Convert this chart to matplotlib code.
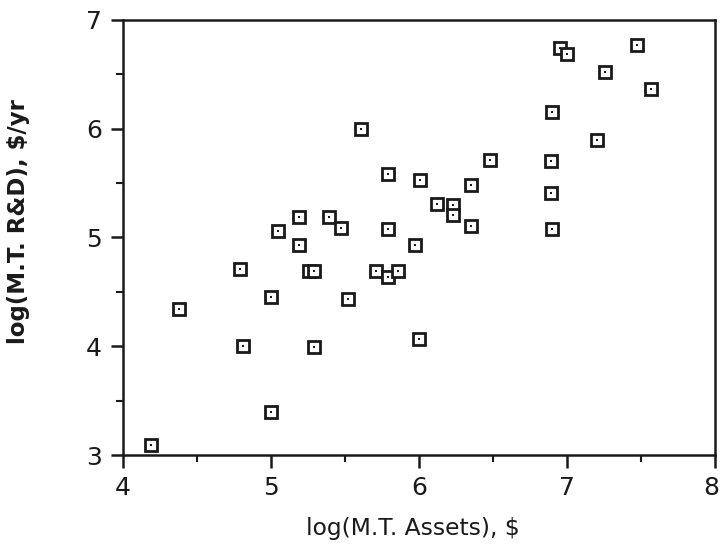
import matplotlib
matplotlib.use("Agg")
import matplotlib.pyplot as plt
from matplotlib.ticker import MultipleLocator
import matplotlib.transforms as mtransforms

log_assets = [4.19, 4.38, 4.79, 4.81, 5.00, 5.00, 5.05, 5.19, 5.19, 5.26,
              5.29, 5.29, 5.39, 5.47, 5.52, 5.61, 5.71, 5.79, 5.86, 5.79,
              5.79, 5.97, 6.01, 6.00, 6.12, 6.23, 6.23, 6.35, 6.35, 6.48,
              6.89, 6.89, 6.90, 6.90, 6.95, 7.00, 7.47, 7.26, 7.57, 7.20]
log_rnd = [3.09, 4.34, 4.71, 4.00, 4.45, 3.40, 5.06, 5.19, 4.93, 4.69,
           4.69, 3.99, 5.19, 5.09, 4.43, 6.00, 4.69, 4.64, 4.69, 5.58,
           5.08, 4.93, 5.53, 4.07, 5.31, 5.30, 5.21, 5.48, 5.11, 5.71,
           5.70, 5.41, 5.08, 6.15, 6.74, 6.69, 6.77, 6.52, 6.37, 5.90]

x_ticks = [4, 5, 6, 7, 8]
y_ticks = [3, 4, 5, 6, 7]
x_label = "log(M.T. Assets), $"
y_label = "log(M.T. R&D), $/yr"

fig = plt.figure(figsize=(7.21, 5.49), dpi=100)
ax = fig.add_axes([0.1706, 0.1712, 0.8211, 0.7924])

ax.plot(log_assets, log_rnd, linestyle="none", marker="s", markersize=8.5,
        markerfacecolor="white", markeredgecolor="#1a1a1a", markeredgewidth=2.0)
ax.plot(log_assets, log_rnd, linestyle="none", marker="s", markersize=1.8,
        markerfacecolor="#1a1a1a", markeredgecolor="#1a1a1a", markeredgewidth=0)

ax.set_xlim(4, 8)
ax.set_ylim(3, 7)
ax.set_xticks(x_ticks)
ax.set_yticks(y_ticks)
ax.xaxis.set_minor_locator(MultipleLocator(0.5))
ax.yaxis.set_minor_locator(MultipleLocator(0.5))
ax.tick_params(axis="both", which="major", direction="out", length=9, width=1.8,
               labelsize=18, pad=6, colors="#1a1a1a")
ax.tick_params(axis="both", which="minor", direction="out", length=5, width=1.5,
               colors="#1a1a1a")
for s in ax.spines.values():
    s.set_linewidth(1.8)
    s.set_color("#1a1a1a")

# nudge the last x tick label slightly left so it stays inside the figure
last = ax.get_xticklabels()[-1]
last.set_transform(last.get_transform() +
                   mtransforms.ScaledTranslation(-4 / 100, 0, fig.dpi_scale_trans))

ax.set_xlabel(x_label, fontsize=16.8, color="#1a1a1a")
ax.xaxis.set_label_coords(0.49, -0.1425)
ax.set_ylabel(y_label, fontsize=16.5, color="#1a1a1a", fontweight="semibold")
ax.yaxis.set_label_coords(-0.157, 0.536)

fig.savefig("out.png", dpi=100, facecolor="white")
